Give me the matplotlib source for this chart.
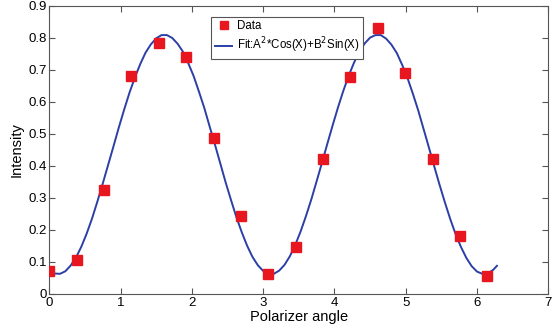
import numpy as np
import matplotlib.pyplot as plt

plt.rcParams['font.family'] = ['Liberation Sans', 'DejaVu Sans']

# measured points
angle = [0.0, 0.384, 0.768, 1.152, 1.536, 1.92, 2.304, 2.688, 3.072,
         3.456, 3.84, 4.224, 4.608, 4.992, 5.376, 5.76, 6.144]
intensity = [0.072, 0.107, 0.325, 0.68, 0.785, 0.74, 0.487, 0.243, 0.063,
             0.147, 0.422, 0.677, 0.83, 0.69, 0.423, 0.18, 0.055]

# fit curve
fit_x = [0.0, 0.075, 0.15, 0.225, 0.3, 0.375, 0.45, 0.525, 0.6, 0.675,
         0.75, 0.825, 0.9, 0.975, 1.05, 1.125, 1.2, 1.275, 1.35, 1.425,
         1.5, 1.575, 1.65, 1.725, 1.8, 1.875, 1.95, 2.025, 2.1, 2.175,
         2.25, 2.325, 2.4, 2.475, 2.55, 2.625, 2.7, 2.775, 2.85, 2.925,
         3.0, 3.075, 3.15, 3.225, 3.3, 3.375, 3.45, 3.525, 3.6, 3.675,
         3.75, 3.825, 3.9, 3.975, 4.05, 4.125, 4.2, 4.275, 4.35, 4.425,
         4.5, 4.575, 4.65, 4.725, 4.8, 4.875, 4.95, 5.025, 5.1, 5.175,
         5.25, 5.325, 5.4, 5.475, 5.55, 5.625, 5.7, 5.775, 5.85, 5.925,
         6.0, 6.075, 6.15, 6.225, 6.28]
fit_y = [0.074, 0.064, 0.063, 0.071, 0.089, 0.114, 0.148, 0.189, 0.236, 0.289,
         0.345, 0.403, 0.461, 0.520, 0.576, 0.629, 0.676, 0.718, 0.754, 0.780,
         0.799, 0.809, 0.809, 0.800, 0.782, 0.757, 0.721, 0.681, 0.632, 0.581,
         0.523, 0.466, 0.407, 0.348, 0.293, 0.240, 0.193, 0.151, 0.116, 0.090,
         0.072, 0.063, 0.063, 0.073, 0.091, 0.118, 0.153, 0.195, 0.243, 0.295,
         0.352, 0.410, 0.469, 0.527, 0.583, 0.635, 0.682, 0.723, 0.758, 0.783,
         0.801, 0.809, 0.809, 0.798, 0.779, 0.753, 0.716, 0.675, 0.626, 0.574,
         0.516, 0.458, 0.399, 0.341, 0.286, 0.234, 0.187, 0.147, 0.113, 0.087,
         0.070, 0.063, 0.064, 0.075, 0.088]

fig = plt.figure(figsize=(5.55, 3.32), dpi=100)
ax = fig.add_axes([0.0888, 0.1145, 0.8991, 0.8675])

ax.plot(angle, intensity, 's', color='#e8161e', ms=7, mec='#e8161e',
        label='Data', zorder=3)
ax.plot(fit_x, fit_y, '-', color='#2b3fa6', lw=1.4,
        label=r'Fit:A$^2$*Cos(X)+B$^2$Sin(X)', zorder=2)

ax.set_xlim(0, 7)
ax.set_ylim(0, 0.9)
ax.set_xticks(range(0, 8))
ax.set_yticks([0, 0.1, 0.2, 0.3, 0.4, 0.5, 0.6, 0.7, 0.8, 0.9])
ax.set_yticklabels(['0', '0.1', '0.2', '0.3', '0.4', '0.5', '0.6', '0.7', '0.8', '0.9'])
ax.tick_params(direction='in', top=True, right=True, length=4,
               labelsize=9.5, color='#555555', pad=2)
for s in ax.spines.values():
    s.set_color('#555555')
    s.set_linewidth(0.8)

ax.set_xlabel('Polarizer angle', fontsize=10.5, labelpad=1)
ax.set_ylabel('Intensity', fontsize=10.5, labelpad=3)

leg = ax.legend(loc='upper left', bbox_to_anchor=(0.325, 0.962),
                fontsize=8.3, fancybox=False, framealpha=1,
                edgecolor='#555555', handlelength=1.5, borderpad=0.3,
                labelspacing=0.3, handletextpad=0.4, borderaxespad=0,
                markerscale=0.85)
leg.get_frame().set_linewidth(0.8)

fig.savefig('out.png', dpi=100)
